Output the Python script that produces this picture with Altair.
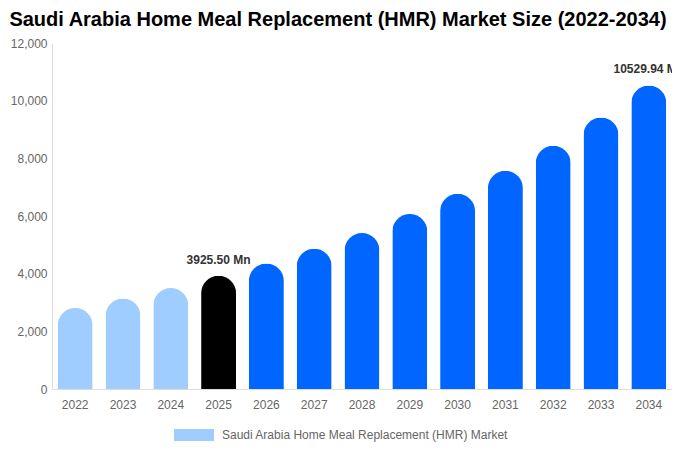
import altair as alt
import pandas as pd

years = ["2022", "2023", "2024", "2025", "2026", "2027", "2028", "2029", "2030", "2031", "2032", "2033", "2034"]
values = [2810, 3140, 3500, 3925.50, 4350, 4860, 5410, 6070, 6770, 7570, 8440, 9420, 10529.94]
colors = ["#A0CDFF", "#A0CDFF", "#A0CDFF", "#000000", "#0066FF", "#0066FF", "#0066FF", "#0066FF",
          "#0066FF", "#0066FF", "#0066FF", "#0066FF", "#0066FF"]
labels = ["", "", "", "3925.50 Mn", "", "", "", "", "", "", "", "", "10529.94 Mn"]
series = "Saudi Arabia Home Meal Replacement (HMR) Market"

df = pd.DataFrame({"year": years, "value": values, "color": colors, "label": labels, "series": series})

FONT = "Liberation Sans"

x = alt.X("year:N", sort=years, title=None,
          scale=alt.Scale(paddingInner=0.27, paddingOuter=0.12),
          axis=alt.Axis(labelAngle=0, ticks=False, domainColor="#dddddd", labelColor="#666666",
                        labelFontSize=12, labelFont=FONT, labelPadding=10))
y = alt.Y("value:Q", title=None,
          scale=alt.Scale(domain=[0, 12000], nice=False),
          axis=alt.Axis(values=[0, 2000, 4000, 6000, 8000, 10000, 12000], format=",.0f", grid=False,
                        ticks=False, domainColor="#dddddd", labelColor="#666666", labelFontSize=12,
                        labelFont=FONT, labelPadding=5))

bars = alt.Chart(df).mark_bar(size=35, cornerRadiusTopLeft=17.5, cornerRadiusTopRight=17.5).encode(
    x=x, y=y, color=alt.Color("color:N", scale=None)
)

legend_layer = alt.Chart(df).mark_bar(opacity=0, size=1).encode(
    x=x, y=alt.Y("value:Q"),
    fill=alt.Fill("series:N", title=None,
                  scale=alt.Scale(domain=[series], range=["#A0CDFF"]),
                  legend=alt.Legend(orient="none", legendX=122, legendY=372, direction="horizontal",
                                    symbolType="M-1,-0.3H1V0.3H-1Z", symbolSize=1600,
                                    symbolOpacity=1, symbolStrokeWidth=0,
                                    labelFont=FONT, labelFontSize=12, labelColor="#666666",
                                    labelLimit=400, labelOffset=8))
)

text = alt.Chart(df).mark_text(dy=-16, fontWeight="bold", fontSize=12, font=FONT, color="#333333").encode(
    x=x, y=alt.Y("value:Q"), text="label:N"
)

chart = alt.layer(legend_layer, bars, text).properties(
    width=620, height=346,
    autosize=alt.AutoSizeParams(type="none"),
    padding={"left": 44, "right": 0, "top": 35, "bottom": 55},
    title=alt.TitleParams("Saudi Arabia Home Meal Replacement (HMR) Market Size (2022-2034)",
                          font=FONT, fontSize=20, fontWeight="bold", color="#000000",
                          anchor="middle", dx=-24, offset=7)
).configure_view(stroke=None)

chart.save("out.html", embed_options={"renderer": "svg", "actions": False})
